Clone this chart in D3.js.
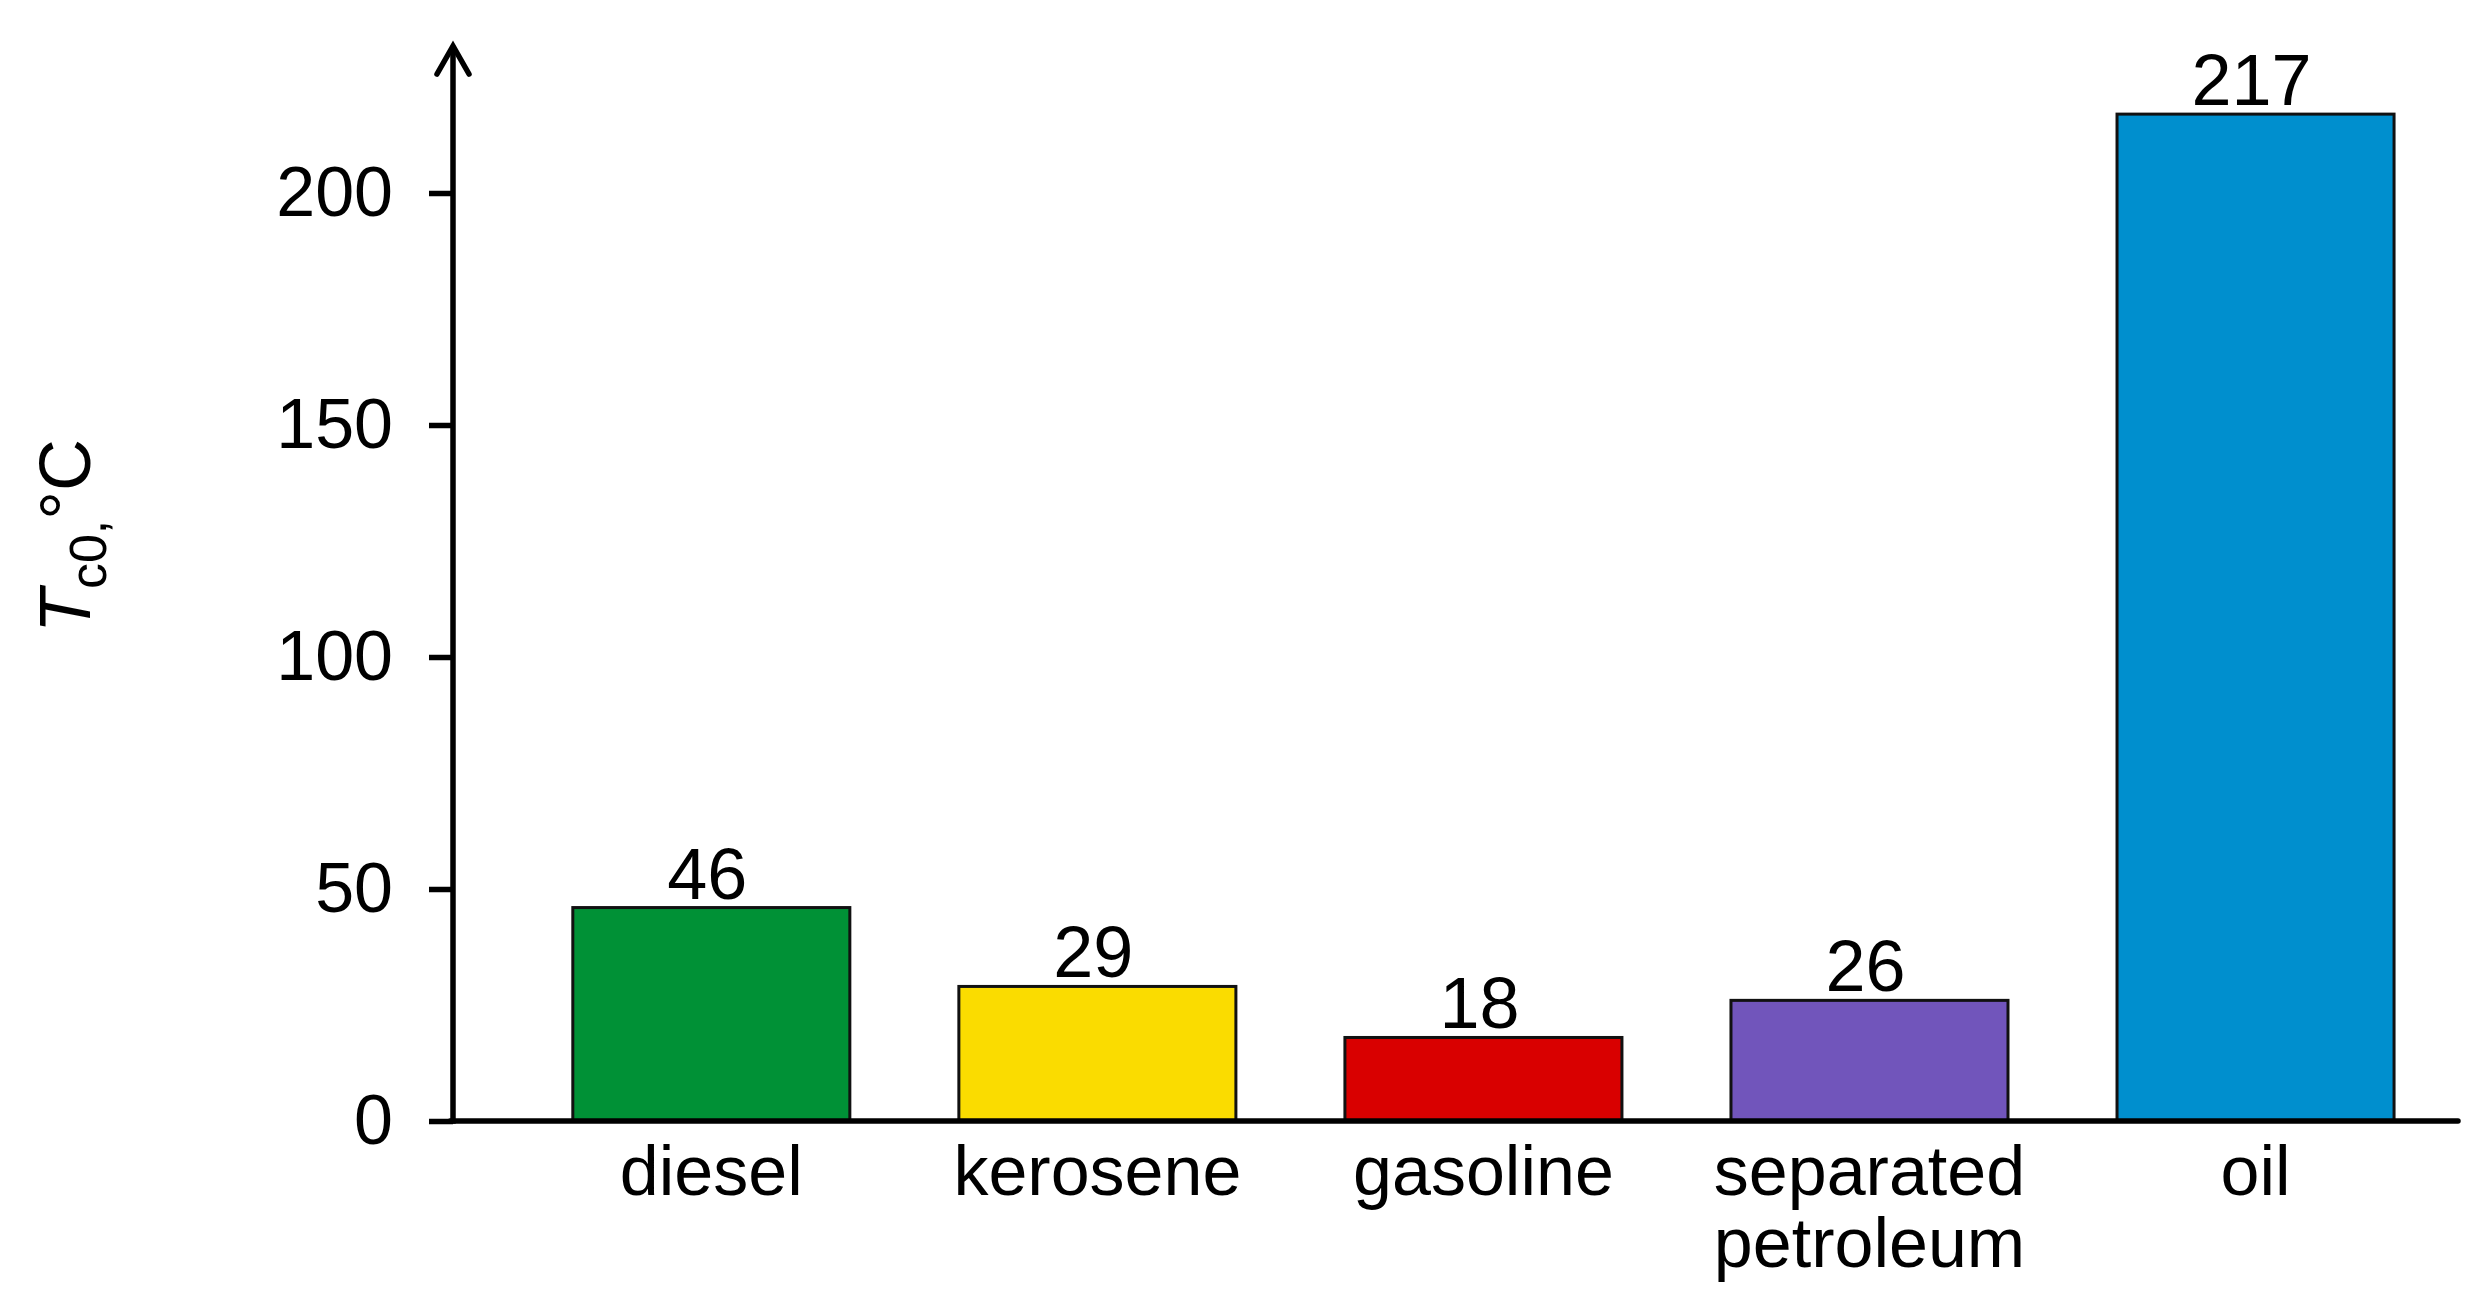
<!DOCTYPE html>
<html>
<head>
<meta charset="utf-8">
<script src="https://cdn.jsdelivr.net/npm/d3@7"></script>
<style>
  html, body { margin: 0; padding: 0; background: #ffffff; }
  svg { display: block; }
  text { font-family: "Liberation Sans", Arial, Helvetica, sans-serif; fill: #000; }
</style>
</head>
<body>
<svg id="chart" width="2491" height="1311"></svg>
<script>
// ---- data ----
const categories = ["diesel", "kerosene", "gasoline", "separated petroleum", "oil"];
const values = [46, 29, 18, 26, 217];
const barColors = ["#009136", "#FADC00", "#D90000", "#7155BB", "#008FCE"];
const yTicks = [0, 50, 100, 150, 200];
const yTitleMain = "T";
const yTitleSub = "c0,";
const yTitleUnit = "°C";

// ---- layout ----
const axisX = 453, baseY = 1121, arrowTipY = 46, axisEndX = 2458;
const fontSize = 70;
const lineW = 5.5;

const svg = d3.select("#chart");

const x = d3.scaleBand()
  .domain(categories)
  .range([axisX, axisEndX])
  .paddingInner(0.2824)
  .paddingOuter(0.238)
  .align(0.652);

const y = d3.scaleLinear()
  .domain([0, 200])
  .range([baseY, 193]);

// bars
svg.append("g").selectAll("rect")
  .data(values)
  .join("rect")
  .attr("x", (d, i) => x(categories[i]))
  .attr("y", d => y(d))
  .attr("width", x.bandwidth())
  .attr("height", d => y(0) - y(d))
  .attr("fill", (d, i) => barColors[i])
  .attr("stroke", "#111")
  .attr("stroke-width", 3);

// value labels
svg.append("g").selectAll("text")
  .data(values)
  .join("text")
  .attr("x", (d, i) => x(categories[i]) + x.bandwidth() / 2 - 4)
  .attr("y", d => y(d) - 9)
  .attr("text-anchor", "middle")
  .style("font-size", "72px")
  .text(d => d);

// y axis (ticks + labels)
const yAxis = d3.axisLeft(y)
  .tickValues(yTicks)
  .tickSize(24)
  .tickSizeOuter(0)
  .tickPadding(36)
  .tickFormat(d3.format("d"));

const gy = svg.append("g")
  .attr("transform", `translate(${axisX},0)`)
  .call(yAxis);
gy.select(".domain").remove();
gy.selectAll(".tick line").attr("stroke", "#000").attr("stroke-width", lineW);
gy.selectAll(".tick text")
  .style("font-size", fontSize + "px")
  .style("font-family", "'Liberation Sans', Arial, sans-serif")
  .attr("fill", "#000");

// x axis (labels only)
const xAxis = d3.axisBottom(x).tickSize(0).tickPadding(0);
const gx = svg.append("g")
  .attr("transform", `translate(0,${baseY})`)
  .call(xAxis);
gx.select(".domain").remove();
gx.selectAll(".tick text").each(function(d) {
  const t = d3.select(this);
  const words = d.split(" ");
  t.text(null)
    .attr("y", 74)
    .attr("dy", null)
    .style("font-size", fontSize + "px")
    .style("font-family", "'Liberation Sans', Arial, sans-serif")
    .attr("fill", "#000");
  words.forEach((w, k) => {
    t.append("tspan")
      .attr("x", 0)
      .attr("dy", k === 0 ? 0 : 72)
      .text(w);
  });
});

// axis lines
svg.append("line")
  .attr("x1", axisX).attr("x2", axisX)
  .attr("y1", baseY + lineW / 2).attr("y2", arrowTipY)
  .attr("stroke", "#000").attr("stroke-width", lineW);
svg.append("line")
  .attr("x1", axisX - lineW / 2).attr("x2", axisEndX)
  .attr("y1", baseY).attr("y2", baseY)
  .attr("stroke", "#000").attr("stroke-width", lineW)
  .attr("stroke-linecap", "round");
// arrow head (open chevron)
svg.append("path")
  .attr("d", `M${axisX - 16},${arrowTipY + 28} L${axisX},${arrowTipY} L${axisX + 16},${arrowTipY + 28}`)
  .attr("fill", "none")
  .attr("stroke", "#000")
  .attr("stroke-width", lineW)
  .attr("stroke-linecap", "round")
  .attr("stroke-linejoin", "miter");

// y title
const yt = svg.append("text")
  .attr("transform", "translate(90,536) rotate(-90)")
  .attr("text-anchor", "middle")
  .style("font-size", "72px");
yt.append("tspan").style("font-style", "italic").text(yTitleMain);
yt.append("tspan").style("font-size", "52px").attr("dy", 16).text(yTitleSub);
yt.append("tspan").attr("dy", -16).text(yTitleUnit);
</script>
</body>
</html>
